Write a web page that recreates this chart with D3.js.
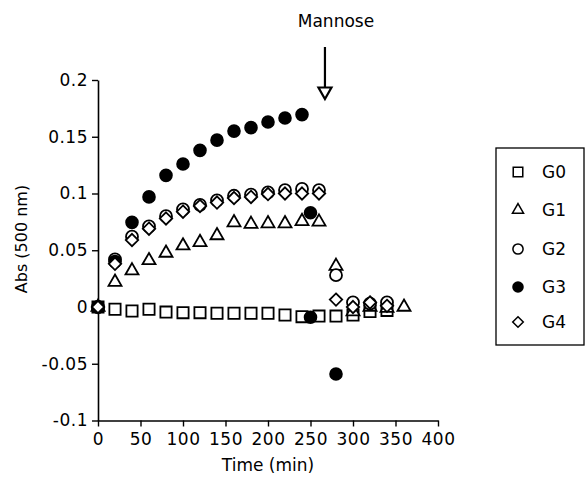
<!DOCTYPE html>
<html>
<head>
<meta charset="utf-8">
<script src="https://cdn.jsdelivr.net/npm/d3@7"></script>
<style>
  html, body { margin: 0; padding: 0; background: #fff; }
  svg { display: block; }
  text { font-family: "DejaVu Sans", sans-serif; fill: #000; }
</style>
</head>
<body>
<svg id="chart" width="585" height="483"></svg>
<script>
// ---- data ----
const seriesNames = ["G0", "G1", "G2", "G3", "G4"];
const g0Time = [0,20,40,60,80,100,120,140,160,180,200,220,240,260,280,300,320,340];
const g0Abs  = [0,-0.002,-0.0035,-0.002,-0.0045,-0.005,-0.005,-0.0055,-0.0055,-0.0055,-0.0055,-0.007,-0.0085,-0.008,-0.008,-0.007,-0.004,-0.003];
const g1Time = [0,20,40,60,80,100,120,140,160,180,200,220,240,260,280,300,320,340,360];
const g1Abs  = [0,0.022,0.032,0.041,0.0476,0.054,0.057,0.063,0.0744,0.073,0.0735,0.0735,0.0755,0.075,0.036,-0.004,0,-0.001,0];
const g2Time = [0,20,40,60,80,100,120,140,160,180,200,220,240,260,280,300,320,340];
const g2Abs  = [0,0.042,0.062,0.071,0.080,0.086,0.090,0.094,0.098,0.099,0.101,0.103,0.104,0.103,0.028,0.004,0.003,0.004];
const g3Time = [0,20,40,60,80,100,120,140,160,180,200,220,240,250,250,280];
const g3Abs  = [0,0.04,0.0746,0.097,0.116,0.126,0.138,0.147,0.155,0.158,0.163,0.1665,0.1695,0.083,-0.009,-0.059];
const g4Time = [0,20,40,60,80,100,120,140,160,180,200,220,240,260,280,300,320,340];
const g4Abs  = [0,0.038,0.059,0.069,0.078,0.084,0.089,0.092,0.096,0.097,0.0995,0.1,0.1,0.1,0.0065,0,0.004,0.001];
const yTicks = [-0.1,-0.05,0,0.05,0.1,0.15,0.2];
const yTickLabels = ["-0.1","-0.05","0","0.05","0.1","0.15","0.2"];
const xTicks = [0,50,100,150,200,250,300,350,400];
const xTickLabels = ["0","50","100","150","200","250","300","350","400"];
const mannoseTime = 267;
const yLabel = "Abs (500 nm)";
const xLabel = "Time (min)";
const annotation = "Mannose";

const seriesTimes = [g0Time, g1Time, g2Time, g3Time, g4Time];
const seriesVals = [g0Abs, g1Abs, g2Abs, g3Abs, g4Abs];
const shapes = ["square", "triangle", "circle", "filledCircle", "diamond"];

// ---- drawing ----
const svg = d3.select("#chart");
const x = d3.scaleLinear().domain([0, 400]).range([98, 438]);
const y = d3.scaleLinear().domain([-0.1, 0.2]).range([420.5, 80]);

function symbolPath(shape) {
  const p = d3.path();
  if (shape === "square") {
    const h = 5.6; p.rect(-h, -h, 2*h, 2*h);
  } else if (shape === "triangle") {
    const a = 13, hgt = a * Math.sqrt(3) / 2;
    p.moveTo(0, -hgt*2/3); p.lineTo(a/2, hgt/3); p.lineTo(-a/2, hgt/3); p.closePath();
  } else if (shape === "circle") {
    p.arc(0, 0, 6, 0, 2*Math.PI);
  } else if (shape === "filledCircle") {
    p.arc(0, 0, 6.8, 0, 2*Math.PI);
  } else if (shape === "diamond") {
    const r = 6.2;
    p.moveTo(0, -r); p.lineTo(r, 0); p.lineTo(0, r); p.lineTo(-r, 0); p.closePath();
  }
  return p.toString();
}
function styleSym(sel, shape) {
  if (shape === "filledCircle") sel.attr("fill", "#000").attr("stroke", "none");
  else sel.attr("fill", "#fff").attr("stroke", "#000").attr("stroke-width", 1.8);
}

// axes
const yAxis = d3.axisLeft(y).tickValues(yTicks).tickSize(6).tickSizeOuter(0).tickPadding(4)
  .tickFormat((d, i) => yTickLabels[i]);
const xAxis = d3.axisBottom(x).tickValues(xTicks).tickSize(6).tickSizeOuter(0).tickPadding(6)
  .tickFormat((d, i) => xTickLabels[i]);

const gy = svg.append("g").attr("transform", `translate(${x(0)},0)`).call(yAxis);
const gx = svg.append("g").attr("transform", `translate(0,${y(-0.1)})`).call(xAxis);
[gy, gx].forEach(g => {
  g.select(".domain").attr("stroke", "#000").attr("stroke-width", 1.6);
  g.selectAll(".tick line").attr("stroke", "#000").attr("stroke-width", 1.4);
  g.selectAll(".tick text").attr("font-family", "DejaVu Sans, sans-serif")
    .attr("font-size", 17).attr("fill", "#000").attr("letter-spacing", "0.5px");
});

// points
const plot = svg.append("g");
seriesNames.forEach((name, si) => {
  const data = seriesTimes[si].map((t, i) => ({ t, v: seriesVals[si][i] }));
  plot.append("g").selectAll("path").data(data).join("path")
    .attr("d", symbolPath(shapes[si]))
    .attr("transform", d => `translate(${x(d.t)},${y(d.v)})`)
    .call(styleSym, shapes[si]);
});

// labels
svg.append("text").attr("x", x(200)).attr("y", 471).attr("text-anchor", "middle")
  .attr("font-size", 17).text(xLabel);
svg.append("text").attr("transform", "translate(27,239) rotate(-90)").attr("text-anchor", "middle")
  .attr("font-size", 16).text(yLabel);

// mannose arrow
const ax = x(mannoseTime);
svg.append("text").attr("x", ax + 11).attr("y", 27).attr("text-anchor", "middle")
  .attr("font-size", 17).text(annotation);
svg.append("line").attr("x1", ax).attr("x2", ax).attr("y1", 47).attr("y2", 88)
  .attr("stroke", "#000").attr("stroke-width", 2.2);
svg.append("path").attr("d", `M${ax-6.5},87.5 L${ax+6.5},87.5 L${ax},99 Z`)
  .attr("fill", "#fff").attr("stroke", "#000").attr("stroke-width", 2.2).attr("stroke-linejoin", "miter");

// legend
const lg = svg.append("g");
lg.append("rect").attr("x", 496).attr("y", 148).attr("width", 88).attr("height", 197)
  .attr("fill", "#fff").attr("stroke", "#000").attr("stroke-width", 1.3);
const legendY = [172, 210, 249, 287, 322];
seriesNames.forEach((name, i) => {
  const s = shapes[i];
  lg.append("path").attr("d", symbolPath(s))
    .attr("transform", `translate(518,${legendY[i]}) scale(0.85)`)
    .call(styleSym, s);
  lg.append("text").attr("x", 542).attr("y", legendY[i]).attr("dy", "0.36em")
    .attr("font-size", 17).text(name);
});
</script>
</body>
</html>
